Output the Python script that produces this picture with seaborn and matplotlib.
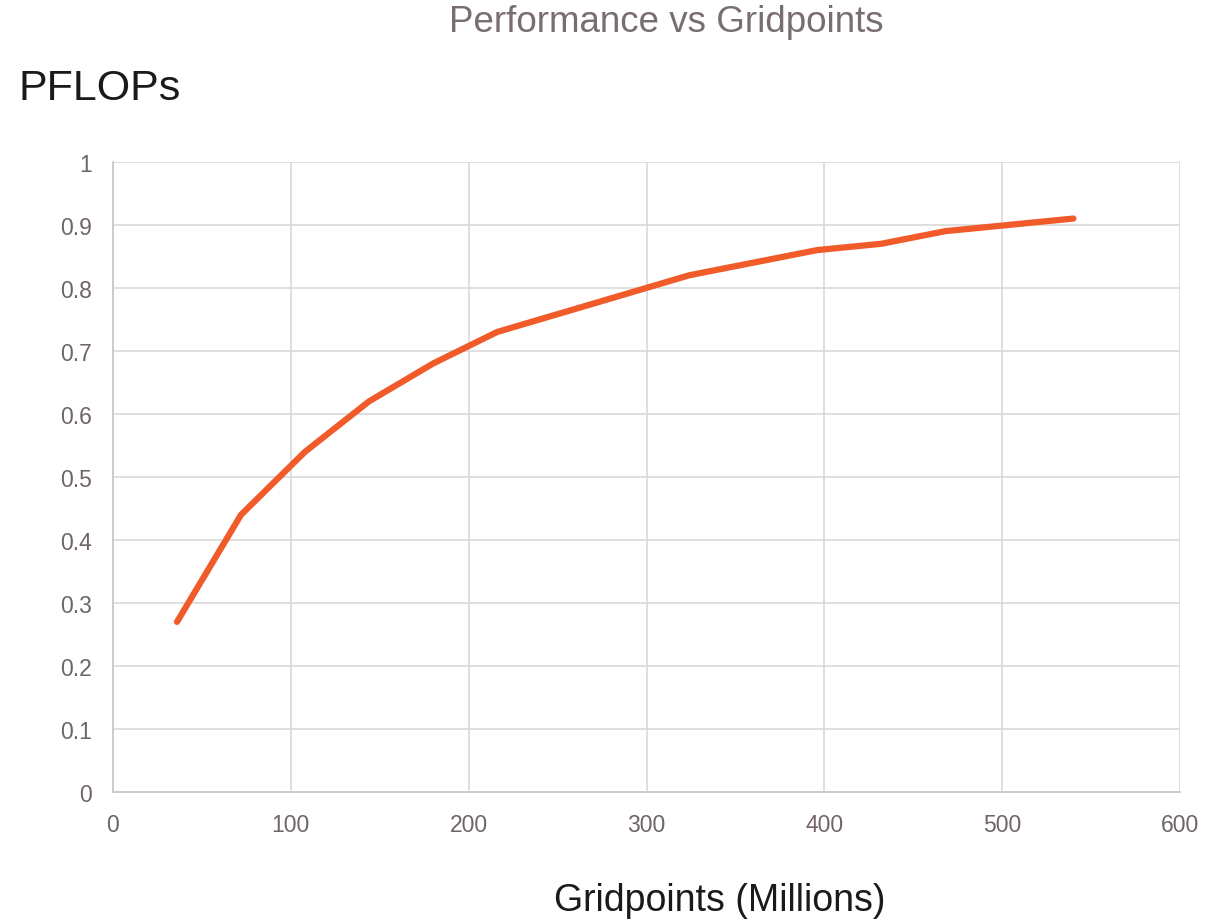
import pandas as pd
import seaborn as sns
from matplotlib import pyplot as plt

# Gridpoints (millions) vs PFLOPs
gridpoints = [36, 72, 108, 144, 180, 216, 252, 288, 324, 360, 396, 432, 468, 504, 540]
pflops = [0.27, 0.44, 0.54, 0.62, 0.68, 0.73, 0.76, 0.79, 0.82, 0.84, 0.86, 0.87, 0.89, 0.90, 0.91]
x_ticks = [0, 100, 200, 300, 400, 500, 600]
y_ticks = [0, 0.1, 0.2, 0.3, 0.4, 0.5, 0.6, 0.7, 0.8, 0.9, 1]
y_labels = ['0', '0.1', '0.2', '0.3', '0.4', '0.5', '0.6', '0.7', '0.8', '0.9', '1']

df = pd.DataFrame({'Gridpoints': gridpoints, 'PFLOPs': pflops})

sns.set_style('whitegrid', {'grid.color': '#d9d9d9', 'axes.edgecolor': '#d0cccd'})
plt.rcParams['font.family'] = ['Liberation Sans', 'DejaVu Sans']

txt = '#6f6468'
fig = plt.figure(figsize=(12.28, 9.2), dpi=100)
ax = fig.add_axes([0.092, 0.138, 0.869, 0.685])

sns.lineplot(data=df, x='Gridpoints', y='PFLOPs', ax=ax, color='#f15a29',
             linewidth=4.5, solid_capstyle='round')

ax.set_xlim(0, 600)
ax.set_ylim(0, 1)
ax.set_xticks(x_ticks)
ax.set_yticks(y_ticks)
ax.set_yticklabels(y_labels)
ax.tick_params(axis='both', labelsize=16.5, colors=txt, length=0)
ax.tick_params(axis='x', pad=15)
ax.tick_params(axis='y', pad=15)
ax.grid(True, color='#d9d9d9', linewidth=1.2)
for side in ['top', 'right']:
    ax.spines[side].set_visible(False)
for side in ['left', 'bottom']:
    ax.spines[side].set_color('#cfcacc')
    ax.spines[side].set_linewidth(1.4)

ax.set_xlabel('')
ax.set_ylabel('')
fig.text(0.543, 0.975, 'Performance vs Gridpoints', ha='center', va='center',
         fontsize=26.5, color='#786d71')
fig.text(0.015, 0.903, 'PFLOPs', ha='left', va='center', fontsize=31, color='#1a1a1a')
fig.text(0.586, 0.021, 'Gridpoints (Millions)', ha='center', va='center',
         fontsize=27, color='#1a1a1a')

fig.savefig('out.png', dpi=100)
